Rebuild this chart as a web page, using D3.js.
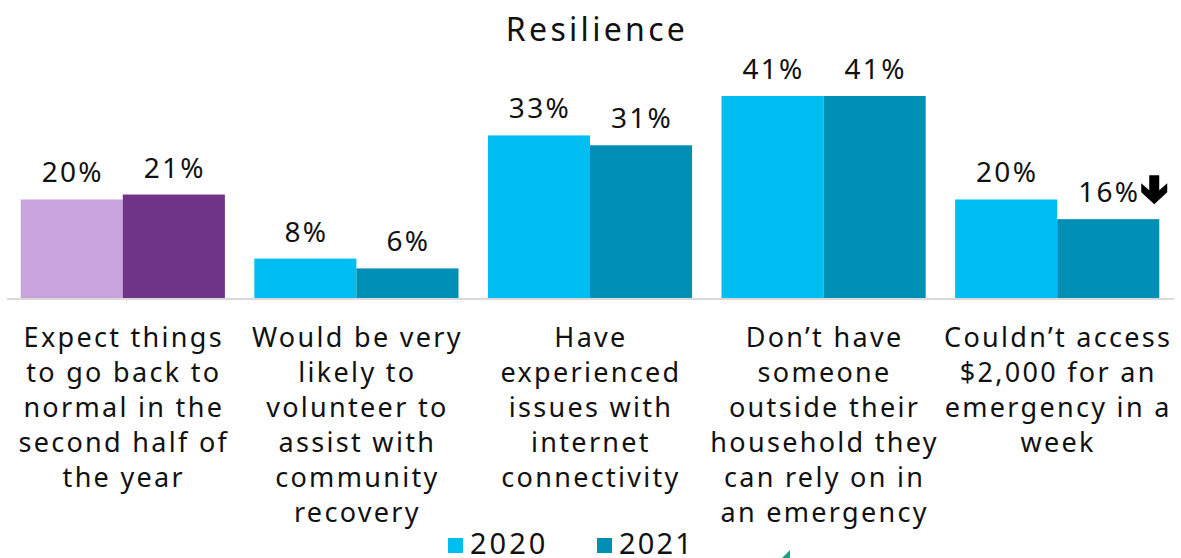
<!DOCTYPE html>
<html><head><meta charset="utf-8">
<script src="https://cdn.jsdelivr.net/npm/d3@7"></script>
<style>body{margin:0;background:#fff}svg{display:block}text{font-family:"Noto Sans",sans-serif;fill:#111}</style>
</head><body><svg id="c" width="1181" height="558"></svg>
<script>
const title = "Resilience";
const categories = [
  ["Expect things","to go back to","normal in the","second half of","the year"],
  ["Would be very","likely to","volunteer to","assist with","community","recovery"],
  ["Have","experienced","issues with","internet","connectivity"],
  ["Don\u2019t have","someone","outside their","household they","can rely on in","an emergency"],
  ["Couldn\u2019t access","$2,000 for an","emergency in a","week"]
];
const series = ["2020","2021"];
const values2020 = [20, 8, 33, 41, 20];
const values2021 = [21, 6, 31, 41, 16];
const downMarks = [false, false, false, false, true]; // 2021 significant decrease
const colors = {"2020":"#00BEF2","2021":"#008FB4"};
const highlightColors = {"2020":"#C9A3DC","2021":"#6F3387"};

const svg = d3.select("#c");
const baseY = 298;
const x0 = d3.scaleBand().domain(d3.range(categories.length)).range([6,1174]).paddingInner(0.126).paddingOuter(0.063);
const x1 = d3.scaleBand().domain(series).range([0, x0.bandwidth()]);
const y = d3.scaleLinear().domain([0, 41]).range([baseY, 96]);

svg.append("text").attr("x",597).attr("y",41).attr("text-anchor","middle")
  .attr("font-size",32).attr("letter-spacing",3.3).text(title);

const data = categories.map((c,i)=>({i, vals:[values2020[i], values2021[i]]}));
const g = svg.selectAll("g.grp").data(data).join("g").attr("class","grp")
  .attr("transform",d=>`translate(${x0(d.i)},0)`);
g.selectAll("rect").data(d=>series.map((s,k)=>({s,v:d.vals[k],i:d.i}))).join("rect")
  .attr("x",d=>x1(d.s)).attr("width",x1.bandwidth())
  .attr("y",d=>y(d.v)).attr("height",d=>baseY-y(d.v))
  .attr("fill",d=>d.i===0?highlightColors[d.s]:colors[d.s]);
g.selectAll("text.val").data(d=>series.map((s,k)=>({s,v:d.vals[k],i:d.i}))).join("text")
  .attr("class","val").attr("text-anchor","middle").attr("font-size",28).attr("letter-spacing",2.3)
  .attr("x",d=>x1(d.s)+x1.bandwidth()/2 + 1)
  .attr("y",d=>y(d.v)-17).text(d=>d.v+"%");

// down arrows
data.filter(d=>downMarks[d.i]).forEach(d=>{
  const cx = x0(d.i)+x1("2021")+x1.bandwidth()/2 + 46;
  const top = y(d.vals[1]) - 44;
  const p = d3.path();
  p.moveTo(cx-5,top); p.lineTo(cx+5,top); p.lineTo(cx+5,top+15);
  p.lineTo(cx+13,top+8); p.lineTo(cx+13,top+17); p.lineTo(cx,top+29);
  p.lineTo(cx-13,top+17); p.lineTo(cx-13,top+8); p.lineTo(cx-5,top+15); p.closePath();
  svg.append("path").attr("d",p.toString()).attr("fill","#000");
});

// baseline
svg.append("line").attr("x1",7).attr("x2",1174).attr("y1",baseY+1).attr("y2",baseY+1)
  .attr("stroke","#d9d9d9").attr("stroke-width",2);

// category labels
g.each(function(d){
  const t = d3.select(this).append("text").attr("text-anchor","middle").attr("font-size",27).attr("letter-spacing",2.3);
  categories[d.i].forEach((line,k)=>{
    t.append("tspan").attr("x",x0.bandwidth()/2 + 1).attr("y",347+k*35).text(line);
  });
});

// legend
const leg = svg.append("g");
const legX = [448, 597];
const legLS = [3, 2.2];
series.forEach((s,k)=>{
  leg.append("rect").attr("x",legX[k]).attr("y",538).attr("width",15).attr("height",15).attr("fill",colors[s]);
  leg.append("text").attr("x",legX[k]+22).attr("y",554).attr("font-size",29).attr("letter-spacing",legLS[k]).text(s);
});

// small partial green mark at the bottom edge (cut-off element in the original)
svg.append("path").attr("d","M782,558 L790,550 L790,558 Z").attr("fill","#1AA37A");
</script></body></html>
